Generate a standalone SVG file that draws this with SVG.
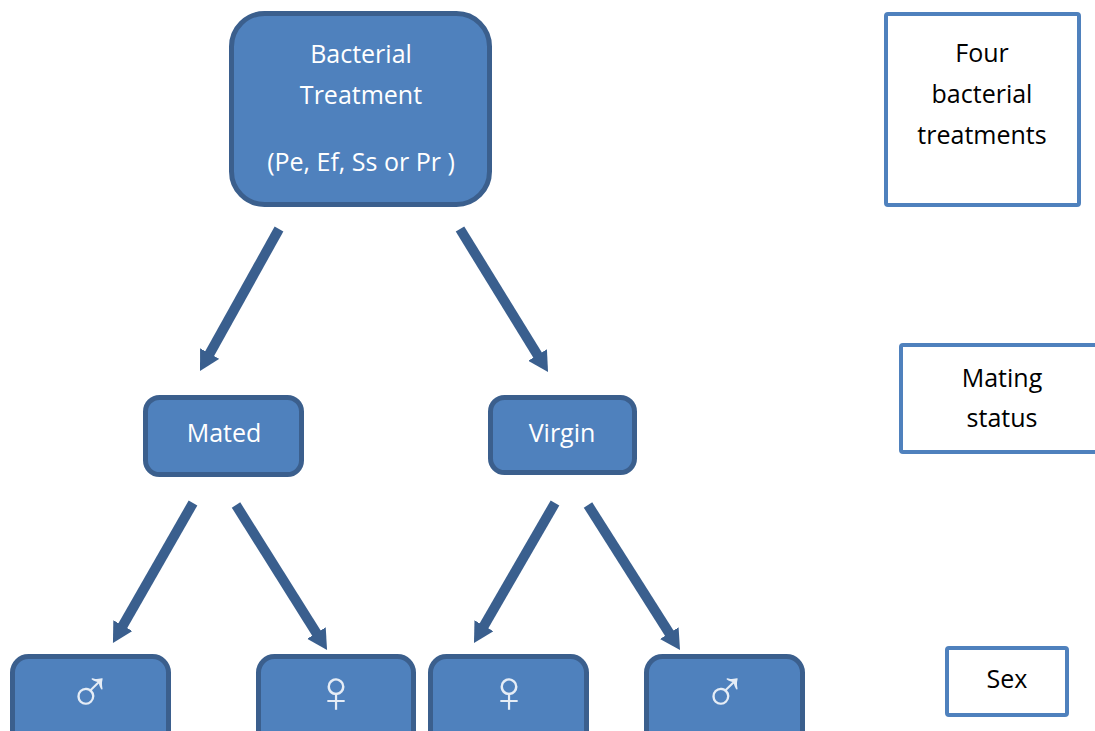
<svg xmlns="http://www.w3.org/2000/svg" width="1095" height="731" viewBox="0 0 1095 731">
<style>
.nb{fill:#4F81BD;stroke:#3B5F8D;stroke-width:5}
.lb{fill:#ffffff;stroke:#4F81BD;stroke-width:4}
.wt{font-family:"Open Sans","Liberation Sans",sans-serif;font-size:25px;fill:#ffffff;text-anchor:middle}
.bt{font-family:"Open Sans","Liberation Sans",sans-serif;font-size:25px;fill:#000000;text-anchor:middle}
.sym{font-family:"DejaVu Sans",sans-serif;font-size:60px;font-weight:200;fill:#E6EDF6;text-anchor:middle}
.ar{stroke:#3A5F8E;stroke-width:10;fill:none;marker-end:url(#ah)}
</style>
<defs>
<marker id="ah" markerUnits="userSpaceOnUse" viewBox="0 0 20 22" refX="6" refY="11" markerWidth="20" markerHeight="22" orient="auto">
<path d="M0,0 L20,11 L0,22 Z" fill="#3A5F8E"/>
</marker>
</defs>
<rect width="1095" height="731" fill="#ffffff"/>
<g id="connectors">
<line class="ar" x1="279" y1="229" x2="206.8" y2="358.8"/>
<line class="ar" x1="460" y1="229" x2="540.7" y2="360.1"/>
<line class="ar" x1="193" y1="503" x2="119.9" y2="630.8"/>
<line class="ar" x1="236" y1="505" x2="319.6" y2="638.1"/>
<line class="ar" x1="555" y1="503" x2="481.0" y2="630.9"/>
<line class="ar" x1="588" y1="505" x2="672.5" y2="638.2"/>
</g>
<g id="treatment">
<rect class="nb" x="231.5" y="13.5" width="258" height="191" rx="33"/>
<text class="wt" x="361" y="63">Bacterial</text>
<text class="wt" x="361" y="104">Treatment</text>
<text class="wt" x="361" y="171">(Pe, Ef, Ss or Pr )</text>
</g>
<g id="mated">
<rect class="nb" x="145.5" y="397.5" width="156" height="77" rx="14"/>
<text class="wt" x="224" y="442">Mated</text>
</g>
<g id="virgin">
<rect class="nb" x="490.5" y="397.5" width="144" height="75" rx="14"/>
<text class="wt" x="562" y="442">Virgin</text>
</g>
<g id="male1">
<rect class="nb" x="12.5" y="656.5" width="156" height="100" rx="16"/>
<text class="sym" x="90" y="712">♂</text>
</g>
<g id="female1">
<rect class="nb" x="258.5" y="656.5" width="155" height="100" rx="16"/>
<text class="sym" x="336" y="712">♀</text>
</g>
<g id="female2">
<rect class="nb" x="430.5" y="656.5" width="156" height="100" rx="16"/>
<text class="sym" x="509" y="712">♀</text>
</g>
<g id="male2">
<rect class="nb" x="646.5" y="656.5" width="156" height="100" rx="16"/>
<text class="sym" x="725" y="712">♂</text>
</g>
<g id="legend-treatments">
<rect class="lb" x="886" y="14" width="193" height="191" rx="2"/>
<text class="bt" x="982" y="62">Four</text>
<text class="bt" x="982" y="103">bacterial</text>
<text class="bt" x="982" y="144">treatments</text>
</g>
<g id="legend-mating">
<rect class="lb" x="901" y="345" width="200" height="107" rx="2"/>
<text class="bt" x="1002" y="387">Mating</text>
<text class="bt" x="1002" y="427">status</text>
</g>
<g id="legend-sex">
<rect class="lb" x="947" y="648" width="120" height="67" rx="2"/>
<text class="bt" x="1007" y="688">Sex</text>
</g>
</svg>
